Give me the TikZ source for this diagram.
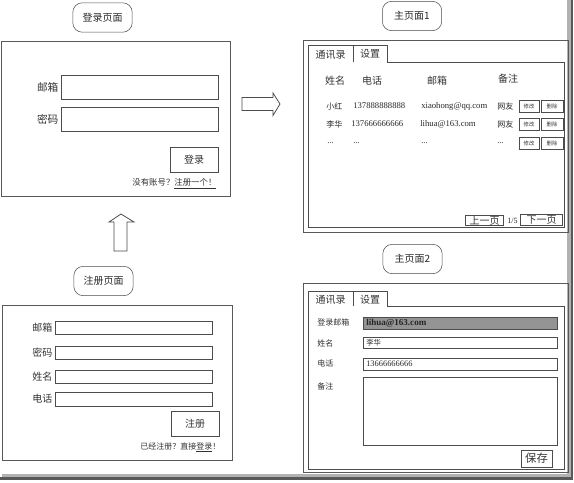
\documentclass[tikz,border=0pt]{standalone}
\usepackage{fontspec}
\setmainfont{Liberation Serif}
\newfontfamily\cjk{Noto Sans CJK SC}

\begin{document}
\begin{tikzpicture}
    [x=0.75pt,y=-0.75pt,
    PageTitle/.style={draw=black!70, rounded corners=7pt, minimum width=44.5pt, minimum height=22pt, font=\cjk\fontsize{7.5}{9}\selectfont, text=black!85},
    PageFrame/.style={draw=black!65, line width=0.7pt},
    FieldBox/.style={draw=black!70, line width=0.6pt},
    ButtonBox/.style={draw=black!70, line width=0.6pt, inner sep=0pt, text=black!80},
    TinyBtn/.style={ButtonBox, minimum height=9pt, font=\cjk\fontsize{4}{5}\selectfont},
    BlockArrow/.style={draw=black!70, fill=white, line width=0.6pt},
    FormLabel/.style={font=\cjk\fontsize{7.5}{9}\selectfont, text=black!80, inner sep=1pt},
    SmallLabel/.style={font=\cjk\fontsize{6}{7}\selectfont, text=black!80, inner sep=0pt, anchor=west},
    RowText/.style={font=\fontsize{6.5}{8}\selectfont, text=black!85, inner sep=0pt, anchor=west},
    ]
    \useasboundingbox (0,0) rectangle (574,482);

    %shadow
    \draw[black!30, line width=2.5pt] (2,475.5) -- (569,475.5) -- (569,0);
    \draw[black!65, line width=1.8pt] (0,478.5) -- (572,478.5) -- (572,0);

    %login page
    \node[PageTitle] (LoginTitle) at (102.5,17.5) {登录页面};
    \draw[PageFrame] (1,41) rectangle (230,196);
    \draw[FieldBox] (61,75) rectangle (218,99);
    \draw[FieldBox] (61,107) rectangle (218,131);
    \node[FormLabel, anchor=east, font=\cjk\fontsize{8}{9}\selectfont] (LoginMail) at (60,87) {邮箱};
    \node[FormLabel, anchor=east, font=\cjk\fontsize{8}{9}\selectfont] (LoginPwd) at (60,119) {密码};
    \node[ButtonBox, minimum width=36pt, minimum height=18.75pt, font=\cjk\fontsize{7.5}{9}\selectfont] (LoginBtn) at (194,159.5) {登录};
    \node[FormLabel, anchor=east, font=\cjk\fontsize{6.3}{7}\selectfont] (LoginHint) at (218,184) {没有账号？\underline{注册一个！}};

    %arrows
    \draw[BlockArrow] (114,251) -- (114,222) -- (109,222) -- (121,214) -- (134,222) -- (127,222) -- (127,251) -- cycle;
    \draw[BlockArrow] (242,97.5) -- (273,97.5) -- (273,93) -- (280,104) -- (273,115.5) -- (273,110.5) -- (242,110.5) -- cycle;

    %register page
    \node[PageTitle] (RegTitle) at (103.5,281) {注册页面};
    \draw[PageFrame] (2,305) rectangle (232,460);
    \foreach \ya/\yb/\txt/\n in {321/334/邮箱/1, 346/359/密码/2, 370/383/姓名/3, 392/406/电话/4}
    {
        \draw[FieldBox] (55,\ya) rectangle (212,\yb);
        \node[FormLabel, anchor=east] (RegLabel\n) at (54,{(\ya+\yb)/2}) {\txt};
    }
    \node[ButtonBox, minimum width=36pt, minimum height=18.75pt, font=\cjk\fontsize{7.5}{9}\selectfont] (RegBtn) at (195,423.5) {注册};
    \node[FormLabel, anchor=east, font=\cjk\fontsize{6}{7}\selectfont] (RegHint) at (222,447.5) {已经注册？直接\underline{登录}！};

    %main page 1
    \node[PageTitle] (MainTitleA) at (412,16) {主页面1};
    \draw[PageFrame] (303,40) rectangle (568,232);
    \draw[FieldBox] (308,227) -- (308,45) -- (387,45) -- (387,62) -- (564,62) -- (564,227) -- cycle;
    \draw[FieldBox] (353,45) -- (353,62);
    \node[FormLabel] (TabBookA) at (330.5,55) {通讯录};
    \node[FormLabel] (TabSetA) at (370,53.5) {设置};
    \node[FormLabel] (HeadName) at (335,81) {姓名};
    \node[FormLabel] (HeadPhone) at (372,81) {电话};
    \node[FormLabel] (HeadMail) at (437,81) {邮箱};
    \node[FormLabel] (HeadNote) at (508,79) {备注};
    \node[RowText, font=\cjk\fontsize{6}{7}\selectfont] (NameA) at (326,106) {小红};
    \node[RowText] (PhoneA) at (353,106) {137888888888};
    \node[RowText] (MailA) at (421,106) {xiaohong@qq.com};
    \node[RowText, font=\cjk\fontsize{6}{7}\selectfont] (NoteA) at (497,106) {网友};
    \node[RowText, font=\cjk\fontsize{6}{7}\selectfont] (NameB) at (326,124) {李华};
    \node[RowText] (PhoneB) at (351,124) {137666666666};
    \node[RowText] (MailB) at (420,124) {lihua@163.com};
    \node[RowText, font=\cjk\fontsize{6}{7}\selectfont] (NoteB) at (497,124) {网友};
    \node[RowText] (NameC) at (327,143) {...};
    \node[RowText] (PhoneC) at (353,143) {...};
    \node[RowText] (MailC) at (421,143) {...};
    \node[RowText] (NoteC) at (497,143) {...};
    \foreach \y/\n in {106/1, 124/2, 143.5/3}
    {
        \node[TinyBtn, minimum width=15pt] (Edit\n) at (529,\y) {修改};
        \node[TinyBtn, minimum width=16.5pt] (Del\n) at (552,\y) {删除};
    }
    \node[ButtonBox, minimum width=29pt, minimum height=7.5pt, font=\cjk\fontsize{7.5}{7}\selectfont] (PrevPage) at (484.5,220.5) {上一页};
    \node[RowText, anchor=center, font=\fontsize{6}{7}\selectfont] (PageNum) at (512.5,220.5) {1/5};
    \node[ButtonBox, minimum width=31.5pt, minimum height=8pt, font=\cjk\fontsize{7.5}{7}\selectfont] (NextPage) at (541.5,220) {下一页};

    %main page 2
    \node[PageTitle] (MainTitleB) at (412.5,259) {主页面2};
    \draw[PageFrame] (303,283) rectangle (568,472);
    \draw[FieldBox] (308,469) -- (308,291) -- (387,291) -- (387,306) -- (564,306) -- (564,469) -- cycle;
    \draw[FieldBox] (353,291) -- (353,306);
    \node[FormLabel] (TabBookB) at (330.5,299.5) {通讯录};
    \node[FormLabel] (TabSetB) at (370,299.5) {设置};
    \node[SmallLabel] (SetMail) at (317,322.5) {登录邮箱};
    \node[SmallLabel] (SetName) at (317,343.5) {姓名};
    \node[SmallLabel] (SetPhone) at (317,363) {电话};
    \node[SmallLabel] (SetNote) at (317,386) {备注};
    \draw[FieldBox, fill=black!42] (363,317) rectangle (557,329);
    \draw[FieldBox] (363,337) rectangle (557,348);
    \draw[FieldBox] (363,358) rectangle (557,370);
    \draw[FieldBox] (363,377) rectangle (557,445);
    \node[RowText, font=\bfseries\fontsize{6.8}{8}\selectfont] (MailVal) at (366,323) {lihua@163.com};
    \node[RowText, font=\cjk\fontsize{5.5}{7}\selectfont] (NameVal) at (366,342.5) {李华};
    \node[RowText, font=\fontsize{6.3}{8}\selectfont] (PhoneVal) at (366,364) {13666666666};
    \node[ButtonBox, minimum width=23.25pt, minimum height=12.75pt, font=\cjk\fontsize{8.5}{9}\selectfont] (SaveBtn) at (536.5,458.5) {保存};

    \end{tikzpicture}
\end{document}
